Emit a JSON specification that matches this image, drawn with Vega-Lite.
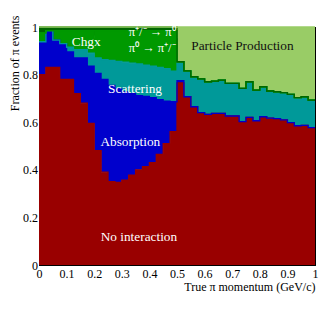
{
"$schema": "https://vega.github.io/schema/vega-lite/v6.json",
"width": 276, "height": 238,
"autosize": {"type": "none"},
"padding": {"left": 39, "top": 27, "right": 17, "bottom": 51},
"background": "white",
"config": {"view": {"stroke": "black", "strokeWidth": 1}, "font": "Liberation Serif"},
"resolve": {"axis": {"x": "independent", "y": "independent"}},
"layer": [
{
"data": {"values": [
{"x":0.000,"a":0.800,"b":0.138,"c":0.000,"d":0.037,"e":0.000,"f":0.025,"g":0.000},
{"x":0.025,"a":0.830,"b":0.155,"c":0.000,"d":0.000,"e":0.000,"f":0.015,"g":0.000},
{"x":0.050,"a":0.830,"b":0.115,"c":0.000,"d":0.040,"e":0.000,"f":0.015,"g":0.000},
{"x":0.075,"a":0.780,"b":0.150,"c":0.000,"d":0.055,"e":0.000,"f":0.015,"g":0.000},
{"x":0.100,"a":0.780,"b":0.115,"c":0.020,"d":0.070,"e":0.000,"f":0.015,"g":0.000},
{"x":0.125,"a":0.720,"b":0.150,"c":0.035,"d":0.080,"e":0.000,"f":0.015,"g":0.000},
{"x":0.150,"a":0.680,"b":0.190,"c":0.035,"d":0.080,"e":0.000,"f":0.015,"g":0.000},
{"x":0.175,"a":0.595,"b":0.241,"c":0.054,"d":0.095,"e":0.000,"f":0.015,"g":0.000},
{"x":0.200,"a":0.480,"b":0.325,"c":0.065,"d":0.080,"e":0.035,"f":0.015,"g":0.000},
{"x":0.225,"a":0.390,"b":0.390,"c":0.083,"d":0.087,"e":0.035,"f":0.015,"g":0.000},
{"x":0.250,"a":0.350,"b":0.405,"c":0.105,"d":0.090,"e":0.035,"f":0.015,"g":0.000},
{"x":0.275,"a":0.347,"b":0.393,"c":0.115,"d":0.095,"e":0.035,"f":0.015,"g":0.000},
{"x":0.300,"a":0.357,"b":0.370,"c":0.125,"d":0.098,"e":0.035,"f":0.015,"g":0.000},
{"x":0.325,"a":0.378,"b":0.342,"c":0.128,"d":0.102,"e":0.035,"f":0.015,"g":0.000},
{"x":0.350,"a":0.400,"b":0.312,"c":0.133,"d":0.105,"e":0.035,"f":0.015,"g":0.000},
{"x":0.375,"a":0.413,"b":0.295,"c":0.132,"d":0.110,"e":0.035,"f":0.015,"g":0.000},
{"x":0.400,"a":0.430,"b":0.273,"c":0.132,"d":0.115,"e":0.035,"f":0.015,"g":0.000},
{"x":0.425,"a":0.465,"b":0.230,"c":0.135,"d":0.120,"e":0.035,"f":0.015,"g":0.000},
{"x":0.450,"a":0.510,"b":0.178,"c":0.137,"d":0.125,"e":0.035,"f":0.015,"g":0.000},
{"x":0.475,"a":0.560,"b":0.126,"c":0.129,"d":0.135,"e":0.035,"f":0.015,"g":0.000},
{"x":0.500,"a":0.765,"b":0.010,"c":0.079,"d":0,"e":0,"f":0,"g":0.146},
{"x":0.525,"a":0.707,"b":0,"c":0.109,"d":0,"e":0,"f":0,"g":0.184},
{"x":0.550,"a":0.665,"b":0,"c":0.126,"d":0,"e":0,"f":0,"g":0.209},
{"x":0.575,"a":0.640,"b":0,"c":0.142,"d":0,"e":0,"f":0,"g":0.218},
{"x":0.600,"a":0.633,"b":0,"c":0.137,"d":0,"e":0,"f":0,"g":0.230},
{"x":0.625,"a":0.637,"b":0,"c":0.136,"d":0,"e":0,"f":0,"g":0.227},
{"x":0.650,"a":0.637,"b":0,"c":0.140,"d":0,"e":0,"f":0,"g":0.223},
{"x":0.675,"a":0.626,"b":0,"c":0.137,"d":0,"e":0,"f":0,"g":0.237},
{"x":0.700,"a":0.626,"b":0,"c":0.137,"d":0,"e":0,"f":0,"g":0.237},
{"x":0.725,"a":0.602,"b":0,"c":0.140,"d":0,"e":0,"f":0,"g":0.258},
{"x":0.750,"a":0.620,"b":0,"c":0.150,"d":0,"e":0,"f":0,"g":0.230},
{"x":0.775,"a":0.606,"b":0,"c":0.129,"d":0,"e":0,"f":0,"g":0.265},
{"x":0.800,"a":0.623,"b":0,"c":0.126,"d":0,"e":0,"f":0,"g":0.251},
{"x":0.825,"a":0.617,"b":0,"c":0.114,"d":0,"e":0,"f":0,"g":0.269},
{"x":0.850,"a":0.615,"b":0,"c":0.113,"d":0,"e":0,"f":0,"g":0.272},
{"x":0.875,"a":0.610,"b":0,"c":0.114,"d":0,"e":0,"f":0,"g":0.276},
{"x":0.900,"a":0.598,"b":0,"c":0.119,"d":0,"e":0,"f":0,"g":0.283},
{"x":0.925,"a":0.585,"b":0,"c":0.118,"d":0,"e":0,"f":0,"g":0.297},
{"x":0.950,"a":0.587,"b":0,"c":0.120,"d":0,"e":0,"f":0,"g":0.293},
{"x":0.975,"a":0.577,"b":0,"c":0.116,"d":0,"e":0,"f":0,"g":0.307},
{"x":1.000,"a":0.577,"b":0,"c":0.116,"d":0,"e":0,"f":0,"g":0.307}
]},
"transform": [{"fold": ["a","b","c","d","e","f","g"], "as": ["cat","frac"]}],
"mark": {"type": "area", "interpolate": "step-after", "opacity": 1, "line": {"color": "black", "strokeWidth": 1.3}},
"encoding": {
"x": {"field": "x", "type": "quantitative", "scale": {"domain": [0,1], "nice": false, "zero": false},
 "axis": {"orient": "bottom", "values": [0,0.02,0.04,0.06,0.08,0.1,0.12,0.14,0.16,0.18,0.2,0.22,0.24,0.26,0.28,0.3,0.32,0.34,0.36,0.38,0.4,0.42,0.44,0.46,0.48,0.5,0.52,0.54,0.56,0.58,0.6,0.62,0.64,0.66,0.68,0.7,0.72,0.74,0.76,0.78,0.8,0.82,0.84,0.86,0.88,0.9,0.92,0.94,0.96,0.98,1],
  "labelExpr": "abs(datum.value*10 - round(datum.value*10)) < 0.001 ? format(datum.value, '~g') : ''",
  "tickSize": {"condition": {"test": "abs(datum.value*10 - round(datum.value*10)) < 0.001", "value": -8}, "value": -4},
  "tickColor": "black", "domainColor": "black", "grid": false, "labelFlush": false, "labelOverlap": false,
  "labelFont": "Liberation Serif", "labelFontSize": 12, "labelColor": "black", "labelPadding": 11, "labelBaseline": "top",
  "title": "True π momentum (GeV/c)", "titleFont": "Liberation Serif", "titleFontSize": 12, "titleFontWeight": "normal", "titleColor": "black",
  "titleAlign": "right", "titleAnchor": "end", "titleX": 276, "titleY": 25, "titleBaseline": "alphabetic"}},
"y": {"field": "frac", "type": "quantitative", "stack": "zero", "scale": {"domain": [0,1], "nice": false},
 "axis": {"orient": "left", "values": [0,0.05,0.1,0.15,0.2,0.25,0.3,0.35,0.4,0.45,0.5,0.55,0.6,0.65,0.7,0.75,0.8,0.85,0.9,0.95,1],
  "labelExpr": "abs(datum.value*5 - round(datum.value*5)) < 0.001 ? format(datum.value, '~g') : ''",
  "tickSize": {"condition": {"test": "abs(datum.value*5 - round(datum.value*5)) < 0.001", "value": -8}, "value": -4},
  "tickColor": "black", "domainColor": "black", "grid": false, "labelFlush": false, "labelOverlap": false,
  "labelFont": "Liberation Serif", "labelFontSize": 12, "labelColor": "black", "labelPadding": 9.5,
  "title": "Fraction of π events", "titleFont": "Liberation Serif", "titleFontSize": 12, "titleFontWeight": "normal", "titleColor": "black",
  "titleAngle": -90, "titleAlign": "right", "titleAnchor": "end", "titleX": -20.5, "titleY": -12, "titleBaseline": "alphabetic"}},
"color": {"field": "cat", "type": "nominal", "legend": null,
 "scale": {"domain": ["a","b","c","d","e","f","g"], "range": ["#990000","#0000cc","#009999","#009900","#009900","#006600","#99cc66"]}},
"order": {"field": "cat", "sort": "ascending"}
}
},
{
"data": {"values": [
{"lx":0.171,"ly":0.935,"t":"Chgx"},
{"lx":0.331,"ly":0.517,"t":"Absorption"},
{"lx":0.348,"ly":0.74,"t":"Scattering"},
{"lx":0.362,"ly":0.119,"t":"No interaction"}
]},
"mark": {"type": "text", "color": "white", "font": "Liberation Serif", "fontSize": 13.3, "align": "center", "baseline": "middle"},
"encoding": {
"x": {"field": "lx", "type": "quantitative",
 "axis": {"orient": "top", "values": [0,0.02,0.04,0.06,0.08,0.1,0.12,0.14,0.16,0.18,0.2,0.22,0.24,0.26,0.28,0.3,0.32,0.34,0.36,0.38,0.4,0.42,0.44,0.46,0.48,0.5,0.52,0.54,0.56,0.58,0.6,0.62,0.64,0.66,0.68,0.7,0.72,0.74,0.76,0.78,0.8,0.82,0.84,0.86,0.88,0.9,0.92,0.94,0.96,0.98,1],
  "labels": false, "title": null, "grid": false, "tickColor": "black", "domainColor": "black",
  "tickSize": {"condition": {"test": "abs(datum.value*10 - round(datum.value*10)) < 0.001", "value": -8}, "value": -4}}},
"y": {"field": "ly", "type": "quantitative",
 "axis": {"orient": "right", "values": [0,0.05,0.1,0.15,0.2,0.25,0.3,0.35,0.4,0.45,0.5,0.55,0.6,0.65,0.7,0.75,0.8,0.85,0.9,0.95,1],
  "labels": false, "title": null, "grid": false, "tickColor": "black", "domainColor": "black",
  "tickSize": {"condition": {"test": "abs(datum.value*5 - round(datum.value*5)) < 0.001", "value": -8}, "value": -4}}},
"text": {"field": "t", "type": "nominal"}
}
},
{
"data": {"values": [
{"lx":0.41,"ly":0.977,"t":"π⁺/⁻ → π⁰"},
{"lx":0.41,"ly":0.912,"t":"π⁰ → π⁺/⁻"}
]},
"mark": {"type": "text", "color": "white", "font": "Liberation Serif", "fontSize": 12.5, "align": "center", "baseline": "middle"},
"encoding": {
"x": {"field": "lx", "type": "quantitative", "axis": null},
"y": {"field": "ly", "type": "quantitative", "axis": null},
"text": {"field": "t", "type": "nominal"}
}
},
{
"data": {"values": [{"lx":0.737,"ly":0.92,"t":"Particle Production"}]},
"mark": {"type": "text", "color": "#111111", "font": "Liberation Serif", "fontSize": 13.3, "align": "center", "baseline": "middle"},
"encoding": {
"x": {"field": "lx", "type": "quantitative", "axis": null},
"y": {"field": "ly", "type": "quantitative", "axis": null},
"text": {"field": "t", "type": "nominal"}
}
}
]
}
